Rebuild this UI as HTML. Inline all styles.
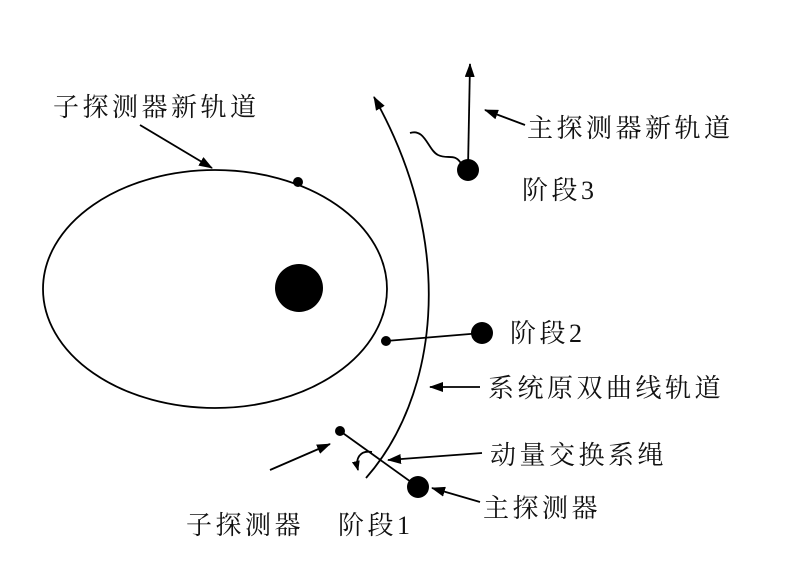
<!DOCTYPE html>
<html><head><meta charset="utf-8"><style>
html,body{margin:0;padding:0;background:#fff;}
svg{display:block;}
text{font-family:"Liberation Serif","Noto Serif CJK SC","Noto Sans CJK SC",serif;font-size:26px;letter-spacing:3.5px;fill:#111;}
</style></head><body>
<svg width="800" height="573" viewBox="0 0 800 573" xmlns="http://www.w3.org/2000/svg">
<defs>
<marker id="a" markerWidth="10" markerHeight="8" refX="9" refY="4" orient="auto" markerUnits="userSpaceOnUse">
<path d="M0,0 L10,4 L0,8 Z" fill="#000"/>
</marker>
<marker id="b" markerWidth="14" markerHeight="10" refX="13" refY="5" orient="auto" markerUnits="userSpaceOnUse">
<path d="M0,0 L14,5 L0,10 Z" fill="#000"/>
</marker>
</defs>
<g stroke="#000" fill="none" stroke-width="1.8">
<ellipse cx="215" cy="289" rx="172" ry="119"/>
<path d="M366,478 C435,400 460,250 374,97" marker-end="url(#b)"/>
<line x1="386" y1="341" x2="482" y2="333"/>
<line x1="468" y1="168" x2="470" y2="64" marker-end="url(#b)"/>
<path d="M410,133 C425,128 428,150 438,155 C448,160 455,152 462,165"/>
<line x1="340" y1="431" x2="418" y2="487"/>
<path d="M372,452 C360,450 355,458 358,470" marker-end="url(#a)"/>
<line x1="140" y1="125" x2="212" y2="168" marker-end="url(#b)"/>
<line x1="525" y1="125" x2="485" y2="110" marker-end="url(#b)"/>
<line x1="480" y1="387" x2="430" y2="387" marker-end="url(#b)"/>
<line x1="482" y1="453" x2="388" y2="460" marker-end="url(#b)"/>
<line x1="480" y1="502" x2="432" y2="488" marker-end="url(#b)"/>
<line x1="270" y1="470" x2="330" y2="444" marker-end="url(#b)"/>
</g>
<g fill="#000">
<circle cx="299" cy="288" r="24"/>
<circle cx="298" cy="182" r="5"/>
<circle cx="386" cy="341" r="5"/>
<circle cx="482" cy="333" r="11"/>
<circle cx="468" cy="170" r="11"/>
<circle cx="340" cy="431" r="5"/>
<circle cx="418" cy="487" r="11"/>
</g>
<text x="53" y="116">子探测器新轨道</text>
<text x="527" y="137">主探测器新轨道</text>
<text x="522" y="199">阶段3</text>
<text x="510" y="342">阶段2</text>
<text x="488" y="397">系统原双曲线轨道</text>
<text x="490" y="464">动量交换系绳</text>
<text x="483" y="517">主探测器</text>
<text x="186" y="534">子探测器</text>
<text x="338" y="534">阶段1</text>
</svg>
</body></html>
